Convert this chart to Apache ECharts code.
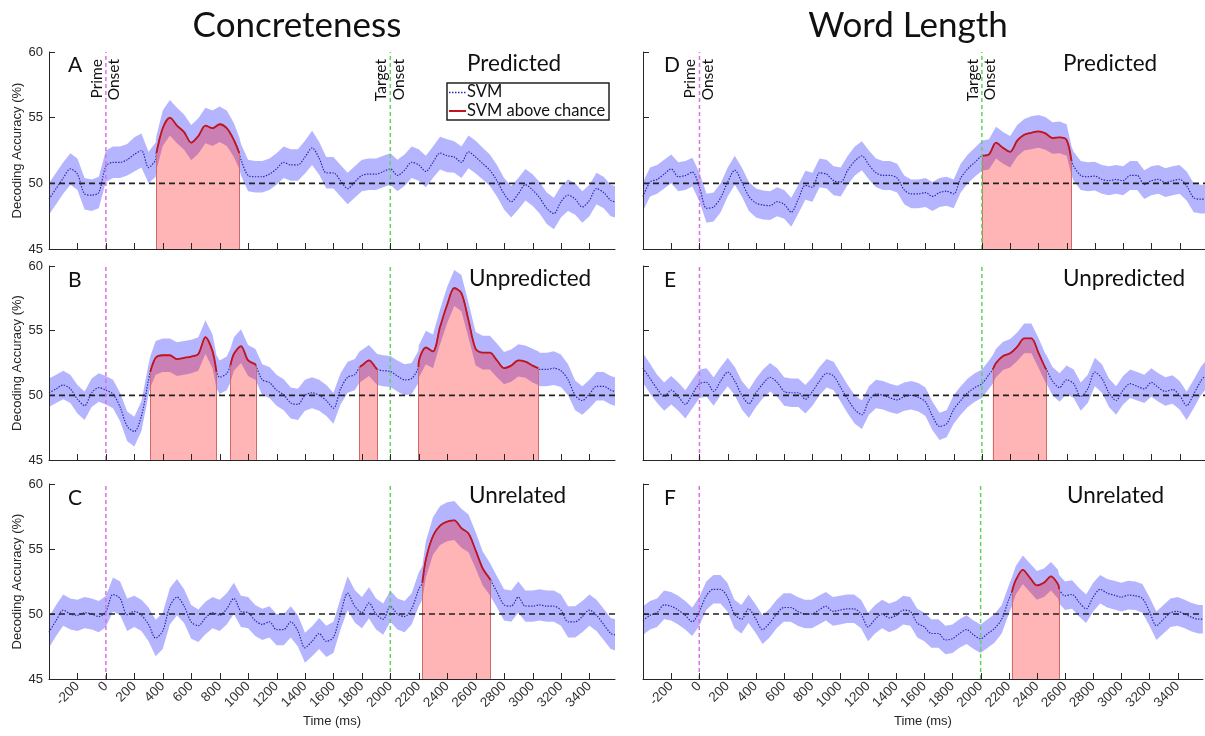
<!DOCTYPE html>
<html><head><meta charset="utf-8">
<script src="https://cdn.jsdelivr.net/npm/echarts@6/dist/echarts.min.js"></script>
<style>html,body{margin:0;padding:0;background:#fff}#c{width:1205px;height:736px}</style>
</head><body><div id="c"></div>
<script>
// ---------------- DATA ----------------
const times = [-400,-350,-300,-250,-200,-150,-100,-50,0,50,100,150,200,250,300,
  350,400,450,500,550,600,650,700,750,800,850,900,950,
  1000,1050,1100,1150,1200,1250,1300,1350,1400,1450,1500,1550,1600,1650,1700,1750,1800,1850,1900,1950,
  2000,2050,2100,2150,2200,2250,2300,2350,2400,2450,2500,2550,2600,2650,2700,2750,2800,2850,2900,2950,
  3000,3050,3100,3150,3200,3250,3300,3350,3400,3450,3500,3550,3580];

// Concreteness – Predicted (A)
const meanA = [48.8,49.6,50.4,51.1,50.7,49.2,49.1,49.3,51.3,51.6,51.6,51.8,52.2,52.5,51.2,
  51.8,54.2,55.0,54.4,53.9,53.1,53.6,54.4,54.2,54.5,54.2,53.3,51.8,
  50.6,50.5,50.5,50.7,51.1,51.6,51.4,51.4,52.0,52.7,51.9,50.8,50.8,50.2,49.6,50.1,50.6,50.7,50.7,50.9,
  51.1,50.6,51.0,51.6,51.4,50.9,51.6,52.3,52.1,52.0,51.6,52.4,52.0,51.5,51.0,50.2,49.2,48.6,49.2,49.9,
  49.5,48.9,48.1,47.7,48.6,49.1,48.8,48.2,48.7,49.6,49.3,48.7,48.6];
const semA = [1.2,1.2,1.2,1.2,1.2,1.2,1.2,1.2,1.2,1.2,1.2,1.2,1.3,1.3,1.2,
  1.3,1.35,1.35,1.35,1.35,1.35,1.35,1.35,1.35,1.35,1.35,1.3,1.2,
  1.2,1.2,1.2,1.2,1.2,1.2,1.2,1.2,1.25,1.3,1.25,1.2,1.2,1.2,1.2,1.2,1.2,1.2,1.2,1.2,
  1.2,1.2,1.2,1.2,1.2,1.2,1.2,1.25,1.25,1.2,1.2,1.25,1.25,1.2,1.2,1.2,1.2,1.2,1.2,1.2,
  1.2,1.2,1.2,1.2,1.2,1.2,1.2,1.2,1.2,1.2,1.2,1.2,1.2];
const clustersA = [[355, 52.3, 938, 52.3]];

// Concreteness – Unpredicted (B)
const meanB = [50.2,50.5,50.8,50.5,49.7,49.2,50.2,50.6,50.4,50.1,49.1,47.6,47.2,48.4,51.2,
  52.9,53.1,53.1,52.8,52.9,53.0,53.2,54.5,53.4,51.4,51.7,53.2,53.8,
  52.7,52.4,51.2,51.0,50.4,50.05,49.4,49.3,50.0,50.2,50.0,49.6,49.0,50.5,51.4,51.6,52.3,52.7,52.1,51.9,
  51.85,51.5,51.2,51.3,52.6,53.7,53.4,55.3,57.0,58.3,57.9,55.8,53.6,53.3,53.3,52.7,52.1,52.3,52.7,52.6,
  52.3,52.0,52.0,52.1,51.9,51.2,50.0,49.6,50.1,50.7,50.7,50.4,50.3];
const semB = [1.1,1.1,1.1,1.1,1.1,1.1,1.1,1.1,1.1,1.1,1.1,1.15,1.15,1.15,1.2,
  1.3,1.3,1.3,1.3,1.3,1.3,1.3,1.3,1.3,1.3,1.3,1.3,1.3,
  1.2,1.2,1.2,1.2,1.2,1.2,1.2,1.2,1.2,1.2,1.2,1.2,1.2,1.2,1.2,1.2,1.2,1.2,1.2,1.2,
  1.2,1.2,1.2,1.2,1.25,1.3,1.3,1.35,1.4,1.4,1.4,1.35,1.3,1.3,1.3,1.3,1.25,1.25,1.25,1.25,
  1.3,1.3,1.3,1.3,1.25,1.2,1.15,1.1,1.1,1.1,1.1,1.1,1.1];
const clustersB = [[312, 51.8, 778, 51.8], [875, 52.3, 1055, 52.3], [1785, 52.2, 1908, 52.0], [2198, 52.2, 3040, 52.1]];

// Concreteness – Unrelated (C)
const meanC = [48.6,49.5,50.3,50.0,49.9,50.1,50.0,49.8,50.2,51.5,51.2,49.95,50.2,49.9,49.2,
  48.15,48.7,50.6,51.3,50.6,49.4,49.1,49.7,50.1,49.9,50.4,51.2,50.2,
  50.1,49.5,49.2,49.4,48.8,48.8,49.4,48.7,47.4,47.9,48.5,47.9,48.2,50.0,51.6,50.6,50.1,50.85,50.0,49.6,
  50.6,50.0,49.8,50.4,51.9,54.2,56.0,56.8,57.1,57.2,56.6,56.2,54.9,53.5,52.7,51.7,50.7,50.6,51.3,50.6,
  50.6,50.7,50.6,50.6,50.3,49.4,49.4,49.8,50.3,49.9,49.2,48.5,48.4];
const semC = [1.2,1.2,1.2,1.2,1.2,1.2,1.2,1.2,1.2,1.3,1.3,1.25,1.2,1.2,1.3,
  1.4,1.4,1.4,1.4,1.3,1.3,1.25,1.25,1.2,1.2,1.2,1.2,1.2,
  1.2,1.2,1.2,1.2,1.2,1.2,1.2,1.2,1.15,1.15,1.2,1.2,1.2,1.2,1.3,1.25,1.2,1.2,1.2,1.2,
  1.2,1.2,1.2,1.2,1.3,1.4,1.45,1.5,1.5,1.5,1.5,1.45,1.4,1.3,1.25,1.2,1.2,1.2,1.2,1.2,
  1.2,1.2,1.2,1.2,1.2,1.2,1.2,1.2,1.2,1.2,1.2,1.2,1.2];
const clustersC = [[2225, 52.4, 2705, 52.6]];

// Word Length – Predicted (D)
const meanD = [49.0,50.1,50.3,50.7,51.1,50.5,50.6,50.85,49.7,48.1,48.2,48.9,50.1,51.0,50.1,
  49.0,48.5,48.35,48.3,48.6,48.4,47.8,48.8,49.85,49.7,50.8,50.7,50.2,
  50.1,51.0,51.7,52.1,51.4,50.8,50.6,50.6,50.4,49.5,49.2,49.2,49.3,49.0,49.3,49.4,49.2,50.4,51.1,51.6,
  52.1,52.2,53.1,52.7,52.4,53.25,53.7,53.85,53.95,53.8,53.45,53.5,53.3,51.3,50.6,50.5,50.55,50.3,50.2,50.3,
  50.2,50.6,50.6,49.9,50.2,50.3,50.05,50.2,50.3,49.8,48.9,48.8,48.8];
const semD = [1.1,1.1,1.1,1.1,1.1,1.1,1.1,1.1,1.1,1.1,1.1,1.1,1.1,1.1,1.1,
  1.1,1.1,1.1,1.1,1.1,1.1,1.1,1.1,1.1,1.1,1.1,1.1,1.1,
  1.1,1.1,1.1,1.1,1.1,1.1,1.1,1.1,1.1,1.1,1.1,1.1,1.1,1.1,1.1,1.1,1.1,1.1,1.1,1.1,
  1.15,1.15,1.2,1.2,1.2,1.2,1.2,1.25,1.25,1.25,1.2,1.2,1.2,1.1,1.1,1.1,1.1,1.1,1.1,1.1,
  1.1,1.1,1.1,1.1,1.1,1.1,1.1,1.1,1.1,1.1,1.1,1.1,1.1];
const clustersD = [[2000, 52.1, 2635, 51.7]];

// Word Length – Unpredicted (E)
const meanE = [52.1,51.3,50.5,49.9,50.4,49.9,49.3,50.1,50.9,51.0,50.3,51.1,51.8,51.1,50.0,
  49.35,50.2,50.9,51.4,51.0,50.3,50.2,50.2,49.7,50.3,51.1,51.7,51.5,
  50.6,49.7,48.9,48.5,49.6,50.1,50.0,49.8,49.65,49.9,50.0,49.85,49.5,48.4,47.6,47.8,48.9,49.6,50.2,50.6,
  50.9,51.6,52.5,53.05,53.25,53.75,54.4,54.4,53.3,52.1,51.1,50.6,51.2,50.9,49.9,50.5,51.8,51.3,50.2,49.6,
  50.4,50.9,50.7,50.5,51.0,50.6,50.3,50.45,50.0,49.2,50.1,51.1,51.5];
const semE = [1.15,1.15,1.1,1.1,1.1,1.1,1.1,1.1,1.1,1.1,1.1,1.1,1.1,1.1,1.1,
  1.1,1.1,1.1,1.1,1.1,1.1,1.1,1.1,1.1,1.1,1.1,1.1,1.1,
  1.1,1.1,1.1,1.1,1.1,1.1,1.1,1.1,1.1,1.1,1.1,1.1,1.1,1.1,1.05,1.05,1.1,1.1,1.1,1.1,
  1.1,1.1,1.1,1.1,1.1,1.1,1.15,1.15,1.15,1.1,1.1,1.1,1.1,1.1,1.1,1.1,1.1,1.1,1.1,1.1,
  1.1,1.1,1.1,1.1,1.1,1.1,1.1,1.1,1.1,1.1,1.1,1.1,1.1];
const clustersE = [[2077, 52.0, 2458, 52.0]];

// Word Length – Unrelated (F)
const meanF = [49.5,49.9,50.1,50.7,50.6,50.3,49.9,49.4,50.2,51.4,51.9,51.9,51.3,50.0,49.6,
  50.4,49.65,48.8,49.3,50.0,50.5,50.5,50.2,50.0,50.0,50.3,50.6,50.2,
  50.3,50.4,50.4,50.0,49.0,49.6,50.0,49.7,49.9,50.3,50.2,49.3,49.0,48.5,48.5,48.0,48.1,48.5,48.8,48.4,
  48.1,48.5,48.9,49.6,51.1,52.6,53.4,52.8,52.2,52.4,52.9,52.3,51.4,51.5,50.9,50.4,51.3,51.9,51.6,51.45,
  51.3,51.45,51.4,51.2,50.2,49.1,49.6,50.1,50.2,50.0,49.75,49.6,49.6];
const semF = [1.1,1.1,1.1,1.1,1.1,1.1,1.1,1.1,1.1,1.1,1.1,1.1,1.1,1.1,1.1,
  1.1,1.1,1.1,1.1,1.1,1.1,1.1,1.1,1.1,1.1,1.1,1.1,1.1,
  1.1,1.1,1.1,1.1,1.1,1.1,1.1,1.1,1.1,1.1,1.1,1.1,1.1,1.1,1.1,1.1,1.1,1.1,1.1,1.1,
  1.1,1.1,1.1,1.1,1.1,1.1,1.1,1.1,1.1,1.1,1.1,1.1,1.1,1.1,1.1,1.1,1.1,1.1,1.1,1.1,
  1.1,1.1,1.1,1.1,1.1,1.1,1.1,1.1,1.1,1.1,1.1,1.1,1.1];
const clustersF = [[2222, 51.7, 2558, 51.9]];

const xTickValues = [-200,0,200,400,600,800,1000,1200,1400,1600,1800,2000,2200,2400,2600,2800,3000,3200,3400];
const panelLetters = ['A','B','C','D','E','F'];
const conditionNames = ['Predicted','Unpredicted','Unrelated','Predicted','Unpredicted','Unrelated'];
const columnTitles = ['Concreteness','Word Length'];
const primeOnset = 0, targetOnset = 2000, chanceLevel = 50;
const legendNames = ['SVM','SVM above chance'];

// ---------------- LAYOUT / STYLE ----------------
const panels = [
  {mean: meanA, sem: semA, clusters: clustersA},
  {mean: meanB, sem: semB, clusters: clustersB},
  {mean: meanC, sem: semC, clusters: clustersC},
  {mean: meanD, sem: semD, clusters: clustersD},
  {mean: meanE, sem: semE, clusters: clustersE},
  {mean: meanF, sem: semF, clusters: clustersF}
];
const grids = [
  {left:49, top:52, width:566, height:197},
  {left:49, top:266, width:566, height:194},
  {left:49, top:484, width:566, height:195},
  {left:643, top:52, width:564, height:197},
  {left:643, top:266, width:564, height:194},
  {left:643, top:484, width:564, height:195}
];
const XMIN = -400, XMAX = 3580, YMIN = 45, YMAX = 60;
const C_BAND = 'rgba(0,0,255,0.29)';
const C_LINE = '#2828a8';
const C_RED = '#c3141c';
const C_PINK = 'rgba(255,0,0,0.29)';
const C_EDGE = '#cf6b6b';
const C_PRIME = '#dd6fe0';
const C_TARGET = '#5cd65c';
const AX = '#262626';
const SMOOTH = 0.3;
const TICK_LEN = 6;

function buildPoints(p) {
  const pts = times.map((t, k) => [t, p.mean[k], p.sem[k]]);
  p.clusters.forEach(c => {
    [[c[0], c[1]], [c[2], c[3]]].forEach(([t, v]) => {
      const idx = pts.findIndex(q => q[0] === t);
      if (idx >= 0) { pts[idx][1] = v; return; }
      let best = pts[0];
      pts.forEach(q => { if (Math.abs(q[0] - t) < Math.abs(best[0] - t)) best = q; });
      pts.push([t, v, best[2]]);
    });
  });
  pts.sort((a, b) => a[0] - b[0]);
  return pts;
}

const series = [];
panels.forEach((p, i) => {
  const pts = buildPoints(p);
  const upper = pts.map(q => [q[0], q[1] + q[2]]);
  const lower = pts.map(q => [q[0], q[1] - q[2]]);
  const base = {xAxisIndex: i, yAxisIndex: i, silent: true, animation: false};
  // SEM band
  series.push(Object.assign({}, base, {
    type: 'custom', z: 1, data: [[XMIN, YMIN]],
    renderItem: (params, api) => {
      const poly = upper.map(q => api.coord(q)).concat(lower.slice().reverse().map(q => api.coord(q)));
      return {type: 'polygon', shape: {points: poly}, style: {fill: C_BAND, stroke: null}};
    }
  }));
  const lb = Object.assign({type: 'line', symbol: 'none', showSymbol: false}, base);
  series.push(Object.assign({}, lb, {
    data: pts.map(q => [q[0], q[1]]), smooth: SMOOTH,
    lineStyle: {color: C_LINE, width: 1.2, type: [1.4, 1.4]}, z: 3
  }));
  p.clusters.forEach(c => {
    series.push(Object.assign({}, lb, {
      data: pts.filter(q => q[0] >= c[0] && q[0] <= c[2]).map(q => [q[0], q[1]]),
      smooth: SMOOTH,
      lineStyle: {color: C_RED, width: 1.8},
      areaStyle: {color: C_PINK, opacity: 1, origin: 'start'},
      z: 4,
      markLine: {
        silent: true, animation: false, symbol: ['none', 'none'], label: {show: false},
        lineStyle: {color: C_EDGE, width: 1, type: 'solid'},
        data: [
          [{coord: [c[0], YMIN]}, {coord: [c[0], c[1]]}],
          [{coord: [c[2], YMIN]}, {coord: [c[2], c[3]]}]
        ]
      }
    }));
  });
  series.push(Object.assign({}, lb, {
    data: [[XMIN, chanceLevel], [XMAX, chanceLevel]],
    lineStyle: {color: '#222', width: 1.6, type: [6, 4]}, z: 6
  }));
  series.push(Object.assign({}, lb, {
    data: [[primeOnset, YMIN], [primeOnset, YMAX]],
    lineStyle: {color: C_PRIME, width: 1.5, type: [4, 3]}, z: 5
  }));
  series.push(Object.assign({}, lb, {
    data: [[targetOnset, YMIN], [targetOnset, YMAX]],
    lineStyle: {color: C_TARGET, width: 1.5, type: [4, 3]}, z: 5
  }));
});

const xAxis = grids.map((g, i) => ({
  type: 'value', gridIndex: i, min: XMIN, max: XMAX, interval: 200, z: 10,
  axisLine: {show: true, onZero: false, lineStyle: {color: AX, width: 1}},
  axisTick: {show: false},
  axisLabel: {show: i % 3 === 2, rotate: 45, hideOverlap: false,
    formatter: v => (v <= XMIN || v >= XMAX) ? '' : String(v),
    fontSize: 13.5, color: '#333', margin: 5, fontFamily: 'Liberation Sans'},
  splitLine: {show: false},
  name: i % 3 === 2 ? 'Time (ms)' : '', nameLocation: 'middle', nameGap: 36,
  nameTextStyle: {fontSize: 13, color: AX, fontFamily: 'Liberation Sans'}
}));
const yAxis = grids.map((g, i) => ({
  type: 'value', gridIndex: i, min: YMIN, max: YMAX, interval: 5, z: 10,
  axisLine: {show: true, onZero: false, lineStyle: {color: AX, width: 1}},
  axisTick: {show: true, inside: true, length: TICK_LEN, lineStyle: {color: AX}},
  axisLabel: {show: i < 3, fontSize: 13, color: AX, margin: 6, fontFamily: 'Liberation Sans'},
  splitLine: {show: false},
  name: i < 3 ? 'Decoding Accuracy (%)' : '', nameLocation: 'middle', nameGap: 25,
  nameTextStyle: {fontSize: 13, color: AX, fontFamily: 'Liberation Sans'}
}));

const chart = echarts.init(document.getElementById('c'), null, {renderer: 'canvas'});
chart.setOption({
  animation: false,
  backgroundColor: '#fff',
  textStyle: {fontFamily: 'Liberation Sans'},
  grid: grids.map(g => Object.assign({containLabel: false}, g)),
  xAxis, yAxis, series
});

// ---------------- ANNOTATIONS ----------------
const TXT = 'Lato';
const g = [];
const txt = (x, y, text, size, extra) => Object.assign({
  type: 'text', x, y, z: 100, silent: true,
  style: Object.assign({text, fontSize: size, fontFamily: TXT, fill: '#111', align: 'left', verticalAlign: 'middle'}, extra || {})
});
g.push(txt(297, 26, columnTitles[0], 35, {align: 'center'}));
g.push(txt(908, 26, columnTitles[1], 35, {align: 'center'}));
const letterPos = [[68, 65], [68, 280], [68, 498], [664, 65], [664, 280], [664, 498]];
const condPos = [[467, 64], [469, 279], [469, 496], [1063, 64], [1063, 279], [1067, 496]];
panelLetters.forEach((L, i) => {
  g.push(txt(letterPos[i][0], letterPos[i][1], L, 21));
  g.push(txt(condPos[i][0], condPos[i][1], conditionNames[i], 22.5));
});
// inward x-axis ticks: x from each panel's x scale, y at the panel's bottom axis line
grids.forEach((gr, i) => {
  const yb = gr.top + gr.height;
  xTickValues.forEach(v => {
    const px = chart.convertToPixel({gridIndex: i}, [v, YMIN]);
    const x = Math.round(px[0]) + 0.5;
    g.push({type: 'line', z: 90, silent: true,
      shape: {x1: x, y1: yb, x2: x, y2: yb - TICK_LEN},
      style: {stroke: AX, lineWidth: 1}});
  });
});
[0, 3].forEach(i => {
  const xp = chart.convertToPixel({gridIndex: i}, [primeOnset, YMIN])[0];
  const xt = chart.convertToPixel({gridIndex: i}, [targetOnset, YMIN])[0];
  const y0 = grids[i].top + 7;
  const rot = {align: 'right', verticalAlign: 'middle'};
  [[xp - 9, 'Prime'], [xp + 8.5, 'Onset'], [xt - 9, 'Target'], [xt + 8.5, 'Onset']].forEach(([x, t]) => {
    const e = txt(x, y0, t, 15.5, rot);
    e.rotation = Math.PI / 2;
    g.push(e);
  });
});
// legend (panel A)
g.push({type: 'rect', z: 100, silent: true, shape: {x: 447, y: 83, width: 162, height: 37},
  style: {fill: '#fff', stroke: '#222', lineWidth: 1.5}});
g.push({type: 'line', z: 101, silent: true, shape: {x1: 449, y1: 92.5, x2: 466, y2: 92.5},
  style: {stroke: C_LINE, lineWidth: 1.5, lineDash: [1.5, 1.5]}});
g.push({type: 'line', z: 101, silent: true, shape: {x1: 449, y1: 111, x2: 466, y2: 111},
  style: {stroke: C_RED, lineWidth: 2}});
g.push(txt(467, 92, legendNames[0], 16.5));
g.push(txt(467, 111, legendNames[1], 16.5));

chart.setOption({graphic: {elements: g}});
</script>
</body></html>
